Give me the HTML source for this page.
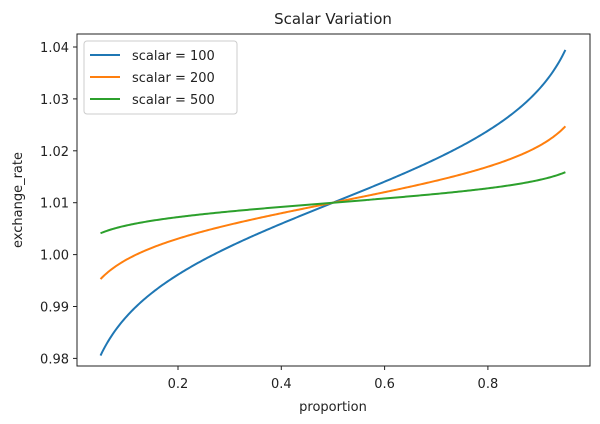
<!DOCTYPE html><html><head><style>body{margin:0;background:#fff}</style></head><body>
<svg id="s" width="600" height="419" xmlns="http://www.w3.org/2000/svg" font-family="DejaVu Sans, Liberation Sans, sans-serif" font-size="13" fill="#222">
<rect x="0" y="0" width="600" height="419" fill="#fff"/>
<text x="333" y="24" text-anchor="middle" font-size="15">Scalar Variation</text>
<g id="curves" fill="none" stroke-width="2"></g>
<rect x="77" y="34" width="513" height="332" fill="none" stroke="#222" stroke-width="1"/>
<g id="ticks" stroke="#222"></g>
<g id="labels"></g>
<text x="333" y="411" text-anchor="middle">proportion</text>
<text transform="translate(22,200) rotate(-90)" text-anchor="middle">exchange_rate</text>
<rect x="84" y="41" width="153" height="73" rx="3" fill="#fff" fill-opacity="0.85" stroke="#ccc"/>
<line x1="90" y1="55" x2="120" y2="55" stroke="#1f77b4" stroke-width="2"/>
<line x1="90" y1="77" x2="120" y2="77" stroke="#ff7f0e" stroke-width="2"/>
<line x1="90" y1="99" x2="120" y2="99" stroke="#2ca02c" stroke-width="2"/>
<text x="132" y="60">scalar = 100</text>
<text x="132" y="82">scalar = 200</text>
<text x="132" y="104">scalar = 500</text>
</svg>
<script>
var X=function(p){return 74.7+p*516.5},Y=function(v){return 254.6-(v-1)*5190};
var g=document.getElementById('curves'),t=document.getElementById('ticks'),l=document.getElementById('labels'),ns='http://www.w3.org/2000/svg';
[[100,'#1f77b4'],[200,'#ff7f0e'],[500,'#2ca02c']].forEach(function(c){var d='';for(var i=0;i<=300;i++){var p=0.05+0.9*i/300;var v=1.01+Math.log(p/(1-p))/c[0];d+=(i?'L':'M')+X(p).toFixed(2)+','+Y(v).toFixed(2);}var e=document.createElementNS(ns,'path');e.setAttribute('d',d);e.setAttribute('stroke',c[1]);g.appendChild(e);});
[0.2,0.4,0.6,0.8].forEach(function(p){var x=X(p);var e=document.createElementNS(ns,'line');e.setAttribute('x1',x);e.setAttribute('x2',x);e.setAttribute('y1',366);e.setAttribute('y2',370);t.appendChild(e);var s=document.createElementNS(ns,'text');s.setAttribute('x',x);s.setAttribute('y',388);s.setAttribute('text-anchor','middle');s.textContent=p.toFixed(1);l.appendChild(s);});
[0.98,0.99,1.00,1.01,1.02,1.03,1.04].forEach(function(v){var y=Y(v);var e=document.createElementNS(ns,'line');e.setAttribute('x1',73);e.setAttribute('x2',77);e.setAttribute('y1',y);e.setAttribute('y2',y);t.appendChild(e);var s=document.createElementNS(ns,'text');s.setAttribute('x',69);s.setAttribute('y',y+5);s.setAttribute('text-anchor','end');s.textContent=v.toFixed(2);l.appendChild(s);});
</script>
</body></html>
